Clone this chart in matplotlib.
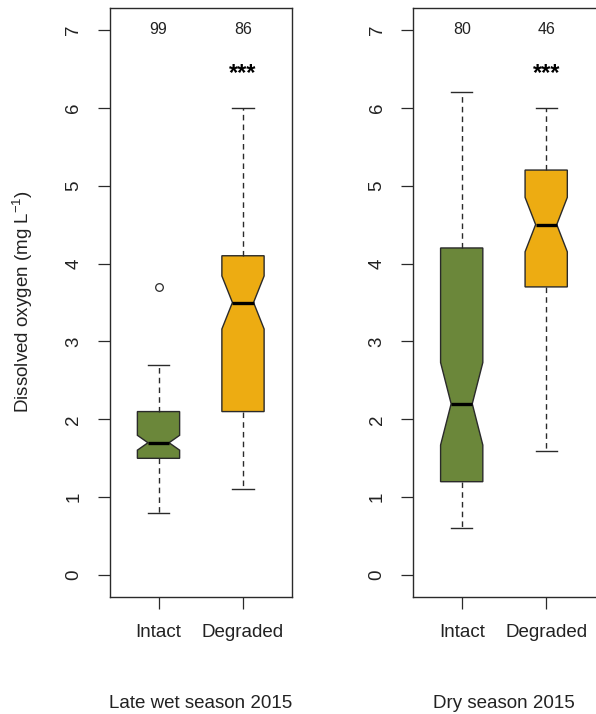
import numpy as np
import matplotlib
matplotlib.use("Agg")
import matplotlib.pyplot as plt

plt.rcParams['font.family'] = ['Liberation Sans', 'DejaVu Sans']
plt.rcParams['mathtext.fontset'] = 'custom'
plt.rcParams['mathtext.rm'] = 'Liberation Sans'
plt.rcParams['mathtext.it'] = 'Liberation Sans:italic'

# ---- data ----
categories = ["Intact", "Degraded"]
seasons = ["Late wet season 2015", "Dry season 2015"]

# per season: [Intact, Degraded]
whislo = [[0.8, 1.1], [0.6, 1.6]]
q1 = [[1.5, 2.1], [1.2, 3.7]]
med = [[1.7, 3.5], [2.2, 4.5]]
q3 = [[2.1, 4.1], [4.2, 5.2]]
whishi = [[2.7, 6.0], [6.2, 6.0]]
fliers = [[[3.7], []], [[], []]]
n_obs = [[99, 86], [80, 46]]
signif = [["", "***"], ["", "***"]]

yticks = [0, 1, 2, 3, 4, 5, 6, 7]
box_colors = ["#6B873A", "#EDAC12"]
edge = "#2a2a2a"

W, H = 596, 714
fig = plt.figure(figsize=(W / 100, H / 100), dpi=100)

ax_left_px = [109.5, 412.7]
ax_w_px = 182.5
ax_top_px, ax_bot_px = 8, 597

for s in range(2):
    ax = fig.add_axes([ax_left_px[s] / W, (H - ax_bot_px) / H,
                       ax_w_px / W, (ax_bot_px - ax_top_px) / H])
    stats = []
    for g in range(2):
        iqr = q3[s][g] - q1[s][g]
        ci = 1.58 * iqr / np.sqrt(n_obs[s][g])
        stats.append(dict(med=med[s][g], q1=q1[s][g], q3=q3[s][g],
                          whislo=whislo[s][g], whishi=whishi[s][g],
                          fliers=fliers[s][g], cilo=med[s][g] - ci,
                          cihi=med[s][g] + ci, label=categories[g]))
    bp = ax.bxp(stats, positions=[1, 2], widths=0.5, shownotches=True,
                patch_artist=True,
                boxprops=dict(edgecolor=edge, linewidth=1.0),
                medianprops=dict(color="black", linewidth=2.4, solid_capstyle='butt'),
                whiskerprops=dict(color=edge, linewidth=1.0, linestyle=(0, (4, 3))),
                capprops=dict(color=edge, linewidth=1.0),
                flierprops=dict(marker='o', markerfacecolor='none',
                                markeredgecolor=edge, markersize=5.5,
                                markeredgewidth=0.9))
    for patch, c in zip(bp['boxes'], box_colors):
        patch.set_facecolor(c)
    # median line spans the notch width (half box width)
    for m, p in zip(bp['medians'], [1, 2]):
        m.set_xdata([p - 0.125, p + 0.125])

    ax.set_xlim(0.42, 2.58)
    ax.set_ylim(-0.28, 7.28)
    ax.set_yticks(yticks)
    ax.set_yticklabels([str(t) for t in yticks], rotation=90, va='center')
    ax.set_xticks([1, 2])
    ax.set_xticklabels(categories)
    ax.tick_params(axis='both', labelsize=13.5, length=8.5, width=0.9,
                   pad=11, colors=edge, labelcolor='#222222')
    for sp in ax.spines.values():
        sp.set_color(edge)
        sp.set_linewidth(1.0)
    if s == 1:
        ax.spines['right'].set_visible(False)

    for g in range(2):
        ax.text(g + 1, 7.0, str(n_obs[s][g]), ha='center', va='center',
                fontsize=11.5, color='#222222')
        if signif[s][g]:
            ax.text(g + 1, 6.36, signif[s][g], ha='center', va='baseline',
                    fontsize=17, fontweight='bold', color='black')

    cx = (ax_left_px[s] + ax_w_px / 2) / W
    fig.text(cx, (H - 703) / H, seasons[s], ha='center', va='center',
             fontsize=13.5, color='#222222')

fig.text(23 / W, (H - 302) / H, "Dissolved oxygen (mg L$^{-1}$)",
         rotation=90, ha='center', va='center', fontsize=13.5, color='#222222')

fig.savefig("out.png", dpi=100)
